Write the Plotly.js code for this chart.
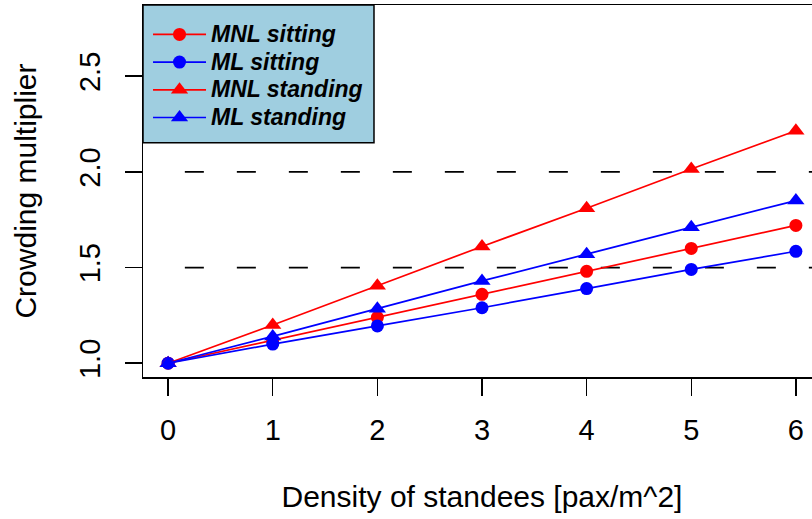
<!DOCTYPE html>
<html>
<head>
<meta charset="utf-8">
<script src="https://cdn.plot.ly/plotly-3.0.1.min.js"></script>
<style>
  html, body { margin: 0; padding: 0; overflow: hidden; background: #ffffff; }
  #chart { width: 830px; height: 519px; }
</style>
</head>
<body>
<div id="chart"></div>
<script>
// Density of standees (pax/m^2)
const density = [0, 1, 2, 3, 4, 5, 6];

// Crowding multipliers by model and passenger state
const mnlSitting  = [1.00, 1.12, 1.24, 1.36, 1.48, 1.60, 1.72];
const mlSitting   = [1.00, 1.10, 1.195, 1.29, 1.39, 1.49, 1.585];
const mnlStanding = [1.00, 1.20, 1.405, 1.61, 1.81, 2.015, 2.215];
const mlStanding  = [1.00, 1.14, 1.285, 1.43, 1.57, 1.71, 1.85];

const seriesNames = ['MNL sitting', 'ML sitting', 'MNL standing', 'ML standing'];

// Reference levels drawn as dashed horizontal lines
const refLevels = [1.5, 2.0];

const xTicks = [0, 1, 2, 3, 4, 5, 6];
const yTicks = [1.0, 1.5, 2.0, 2.5];
const yTickText = ['1.0', '1.5', '2.0', '2.5'];

const RED = '#FF0000';
const BLUE = '#0000FF';
const FONT = 'Liberation Sans, Arial, sans-serif';

// legend labels are set a little larger than the legend's row spacing font
function legendLabel(name) {
  return '<span style="font-size:23px">' + name + '</span>';
}

function series(name, y, color, symbol, size) {
  return {
    type: 'scatter',
    mode: 'lines+markers',
    name: legendLabel(name),
    x: density,
    y: y,
    line: { color: color, width: 1.7 },
    marker: { color: color, symbol: symbol, size: size },
    cliponaxis: false
  };
}

const traces = [
  series(seriesNames[0], mnlSitting,  RED,  'circle', 13),
  series(seriesNames[1], mlSitting,   BLUE, 'circle', 13),
  series(seriesNames[2], mnlStanding, RED,  'triangle-up', 15),
  series(seriesNames[3], mlStanding,  BLUE, 'triangle-up', 15)
];

const shapes = refLevels.map(v => ({
  type: 'line', xref: 'x', yref: 'y',
  x0: 0.16, x1: 6.24, y0: v, y1: v,
  line: { color: '#000000', width: 1.7, dash: '19px,33px' },
  layer: 'below'
}));

// legend box background
shapes.push({
  type: 'rect', xref: 'paper', yref: 'paper',
  x0: 0, x1: 0.3407, y0: 0.6295, y1: 1,
  fillcolor: '#9FCEE0',
  line: { color: '#000000', width: 1.5 },
  layer: 'below'
});

const layout = {
  width: 830,
  height: 519,
  margin: { l: 143, r: 9, t: 5, b: 141.5 },
  paper_bgcolor: '#ffffff',
  plot_bgcolor: 'rgba(0,0,0,0)',
  font: { family: FONT, color: '#000000' },
  showlegend: true,
  legend: {
    x: 0.0074, xanchor: 'left',
    y: 0.9716, yanchor: 'top',
    bgcolor: 'rgba(0,0,0,0)',
    borderwidth: 0,
    itemwidth: 53,
    tracegroupgap: 0,
    font: { family: FONT, size: 19, weight: 'bold', style: 'italic', color: '#000000' }
  },
  xaxis: {
    range: [-0.24, 6.24],
    tickvals: xTicks,
    ticks: 'outside', ticklen: 17, tickwidth: 1.5, tickcolor: '#000000',
    ticklabelstandoff: 10,
    showline: true, mirror: true, linecolor: '#000000', linewidth: 1.5,
    showgrid: false, zeroline: false,
    tickfont: { family: FONT, size: 29 },
    title: { text: 'Density of standees [pax/m^2]', font: { family: FONT, size: 30 }, standoff: 40 }
  },
  yaxis: {
    range: [0.928, 2.872],
    tickvals: yTicks,
    ticktext: yTickText,
    tickangle: -90,
    ticks: 'outside', ticklen: 17, tickwidth: 1.5, tickcolor: '#000000',
    ticklabelstandoff: 13,
    showline: true, mirror: true, linecolor: '#000000', linewidth: 1.5,
    showgrid: false, zeroline: false,
    tickfont: { family: FONT, size: 29 },
    title: { text: 'Crowding multiplier', font: { family: FONT, size: 30 }, standoff: 28 }
  },
  shapes: shapes
};

Plotly.newPlot('chart', traces, layout, { displayModeBar: false, staticPlot: true });
</script>
</body>
</html>
